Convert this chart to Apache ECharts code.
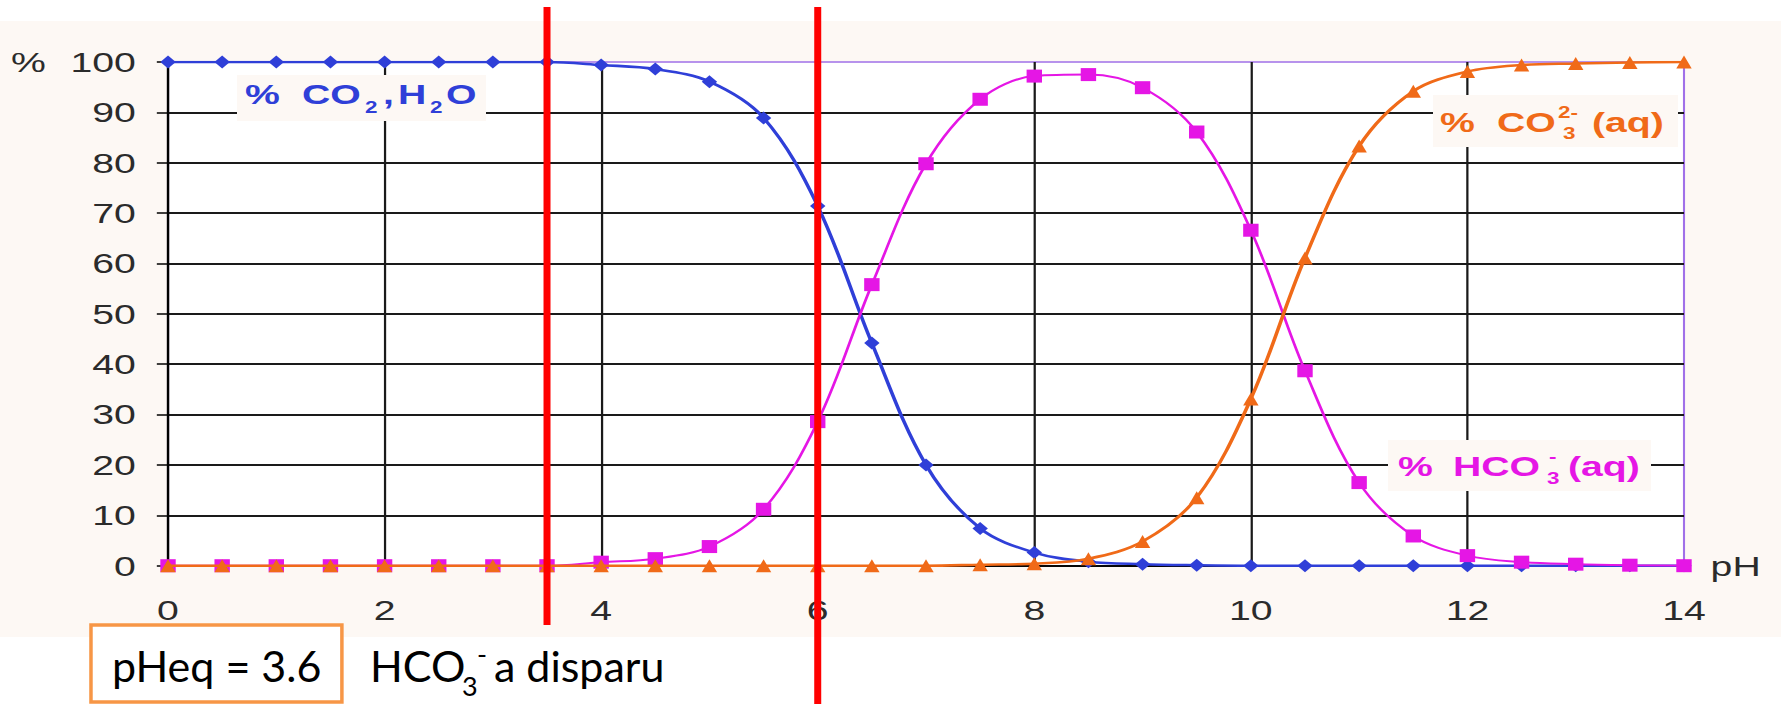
<!DOCTYPE html>
<html>
<head>
<meta charset="utf-8">
<title>Diagramme de distribution CO2 / HCO3- / CO3 2-</title>
<script src="https://cdn.jsdelivr.net/npm/echarts@6.0.0/dist/echarts.min.js"></script>
<style>
  html, body { margin: 0; padding: 0; background: #ffffff; }
  #wrap { width: 1781px; height: 704px; overflow: hidden; position: relative; }
  /* the original picture is stretched sideways, so the chart is drawn narrower and widened */
  #chart { width: 1272px; height: 704px; transform: scaleX(1.400157); transform-origin: 0 0; }
</style>
</head>
<body>
<div id="wrap"><div id="chart"></div></div>
<script>
// pH values (x)
const ph = [0, 0.5, 1, 1.5, 2, 2.5, 3, 3.5, 4, 4.5, 5, 5.5, 6, 6.5, 7, 7.5, 8, 8.5, 9, 9.5, 10, 10.5, 11, 11.5, 12, 12.5, 13, 13.5, 14];
// % CO2,H2O
const co2 = [100, 100, 100, 100, 100, 100, 100, 100, 99.4, 98.6, 96.1, 88.9, 71.4, 44.2, 20.0, 7.4, 2.6, 0.8, 0.3, 0.1, 0, 0, 0, 0, 0, 0, 0, 0, 0];
// % HCO3-(aq)
const hco3 = [0, 0, 0, 0, 0, 0, 0, 0, 0.7, 1.4, 3.8, 11.2, 28.6, 55.8, 79.8, 92.6, 97.2, 97.5, 94.9, 86.1, 66.6, 38.7, 16.5, 5.9, 2.0, 0.7, 0.3, 0.1, 0];
// % CO3 2-(aq)
const co3 = [0, 0, 0, 0, 0, 0, 0, 0, 0, 0, 0, 0, 0, 0, 0, 0.2, 0.4, 1.4, 4.8, 13.5, 33.1, 61.1, 83.3, 94.2, 98.1, 99.4, 99.7, 99.9, 100];
// red markers on the pH axis
const redLines = [3.5, 6];
const xTicks = { min: 0, max: 14, step: 2 };
const yTicks = { min: 0, max: 100, step: 10 };

const S = 1781 / 1272;          // horizontal stretch
const fx = v => v / S;          // picture px -> chart px
const FONT = '"Liberation Sans", Arial, sans-serif';
const BLUE = '#2f3fd8', PINK = '#e516e5', ORANGE = '#f06a18';
const BEIGE = '#fdf8f4';

const pairs = vals => ph.map((p, i) => [p, vals[i]]);

let chart = echarts.init(document.getElementById('chart'), null, { renderer: 'svg' });

const option = {
  animation: false,
  grid: {
    left: 120, right: 1272 - 1684 / S, top: 62, bottom: 704 - 565.7,
    show: true, backgroundColor: '#ffffff', borderColor: '#a070e8', borderWidth: 1.5
  },
  xAxis: {
    type: 'value', min: xTicks.min, max: xTicks.max, interval: xTicks.step,
    axisLine: { show: true, onZero: false, lineStyle: { color: '#000', width: 1.6 } },
    axisTick: { show: false },
    axisLabel: { fontSize: 28, fontFamily: FONT, color: '#2b2b2b', margin: 30 },
    splitLine: { show: true, showMaxLine: false, lineStyle: { color: '#1a1a1a', width: 1.6 } },
    name: 'pH', nameLocation: 'end', nameGap: 19,
    nameTextStyle: { fontSize: 28, fontFamily: FONT, color: '#2b2b2b', padding: [0, 0, 18, 0] }
  },
  yAxis: {
    type: 'value', min: yTicks.min, max: yTicks.max, interval: yTicks.step,
    axisLine: { show: true, lineStyle: { color: '#000', width: 1.6 } },
    axisTick: { show: true, length: 8, lineStyle: { color: '#000', width: 1.5 } },
    axisLabel: { fontSize: 28, fontFamily: FONT, color: '#2b2b2b', margin: 23 },
    splitLine: { show: true, showMaxLine: false, lineStyle: { color: '#1a1a1a', width: 2 } }
  },
  series: [
    {
      name: '% CO2,H2O', type: 'line', data: pairs(co2), smooth: 0.35, z: 3,
      symbol: 'diamond', symbolSize: [11, 13],
      lineStyle: { color: BLUE, width: 2.6 }, itemStyle: { color: BLUE }
    },
    {
      name: '% HCO3-(aq)', type: 'line', data: pairs(hco3), smooth: 0.35, z: 4,
      symbol: 'rect', symbolSize: [11, 13],
      lineStyle: { color: PINK, width: 2 }, itemStyle: { color: PINK }
    },
    {
      name: '% CO3 2-(aq)', type: 'line', data: pairs(co3), smooth: 0.35, z: 5,
      symbol: 'triangle', symbolSize: [11, 13],
      lineStyle: { color: ORANGE, width: 2.6 }, itemStyle: { color: ORANGE }
    }
  ]
};
chart.setOption(option);

// one piece of label text, x given in picture px
function piece(text, x, y, size, color) {
  return {
    type: 'text', x: fx(x), y: y, z: 110,
    style: { text: text, fill: color, font: 'bold ' + size + 'px ' + FONT, verticalAlign: 'middle' }
  };
}
function labelBox(x0, y0, x1, y1) {
  return { type: 'rect', z: 105, shape: { x: fx(x0), y: y0, width: fx(x1 - x0), height: y1 - y0 }, style: { fill: BEIGE } };
}

let g = [];
// beige backdrop
g.push({ type: 'rect', z: -10, shape: { x: 0, y: 21, width: 1272, height: 616 }, style: { fill: BEIGE } });
// "%" unit of the y axis
g.push({ type: 'text', x: fx(11), y: 62, style: { text: '%', fill: '#2b2b2b', font: '28px ' + FONT, verticalAlign: 'middle' } });

// % CO2,H2O
g.push(labelBox(237, 75, 486, 121));
g.push(piece('%', 245, 94.5, 28, BLUE));
g.push(piece('CO', 302, 94.5, 28, BLUE));
g.push(piece('2', 365, 107, 16, BLUE));
g.push(piece(',', 383, 94.5, 28, BLUE));
g.push(piece('H', 398, 94.5, 28, BLUE));
g.push(piece('2', 430, 107, 16, BLUE));
g.push(piece('O', 446, 94.5, 28, BLUE));

// % CO3 2-(aq)
g.push(labelBox(1433, 95, 1678, 147));
g.push(piece('%', 1440, 122, 28, ORANGE));
g.push(piece('CO', 1497, 122, 28, ORANGE));
g.push(piece('2-', 1558, 112, 16, ORANGE));
g.push(piece('3', 1563, 133, 16, ORANGE));
g.push(piece('(aq)', 1592, 122, 28, ORANGE));

// % HCO3-(aq)
g.push(labelBox(1388, 440, 1651, 491));
g.push(piece('%', 1398, 466, 28, PINK));
g.push(piece('HCO', 1453, 466, 28, PINK));
g.push(piece('-', 1549, 456, 16, PINK));
g.push(piece('3', 1547, 478, 16, PINK));
g.push(piece('(aq)', 1568, 466, 28, PINK));

// red vertical lines, placed through the x axis scale
redLines.forEach((v, i) => {
  let px = chart.convertToPixel({ xAxisIndex: 0 }, v);
  let bottom = i === 0 ? 625 : 704;
  g.push({ type: 'rect', z: 200, shape: { x: px - 2.5, y: 7, width: 5, height: bottom - 7 }, style: { fill: '#ff0000' } });
});

// bottom note, not stretched (group undoes the stretch)
const NOTE = 'Lato, "Liberation Sans", sans-serif';
g.push({
  type: 'group', x: 0, y: 0, scaleX: 1 / S, z: 210,
  children: [
    { type: 'rect', z: 210, shape: { x: 91, y: 625, width: 251, height: 77 }, style: { fill: '#ffffff', stroke: '#f79646', lineWidth: 3.5 } },
    { type: 'text', z: 211, x: 112, y: 665, style: { text: 'pHeq = 3.6', fill: '#000', font: '43px ' + NOTE, verticalAlign: 'middle' } },
    { type: 'text', z: 211, x: 370, y: 665, style: { text: 'HCO', fill: '#000', font: '43px ' + NOTE, verticalAlign: 'middle' } },
    { type: 'text', z: 211, x: 462, y: 685, style: { text: '3', fill: '#000', font: '27px ' + NOTE, verticalAlign: 'middle' } },
    { type: 'text', z: 211, x: 477, y: 653, style: { text: '-', fill: '#000', font: '27px ' + NOTE, verticalAlign: 'middle' } },
    { type: 'text', z: 211, x: 494, y: 665, style: { text: 'a disparu', fill: '#000', font: '43px ' + NOTE, verticalAlign: 'middle' } }
  ]
});

chart.setOption({ graphic: { elements: g } });
</script>
</body>
</html>
